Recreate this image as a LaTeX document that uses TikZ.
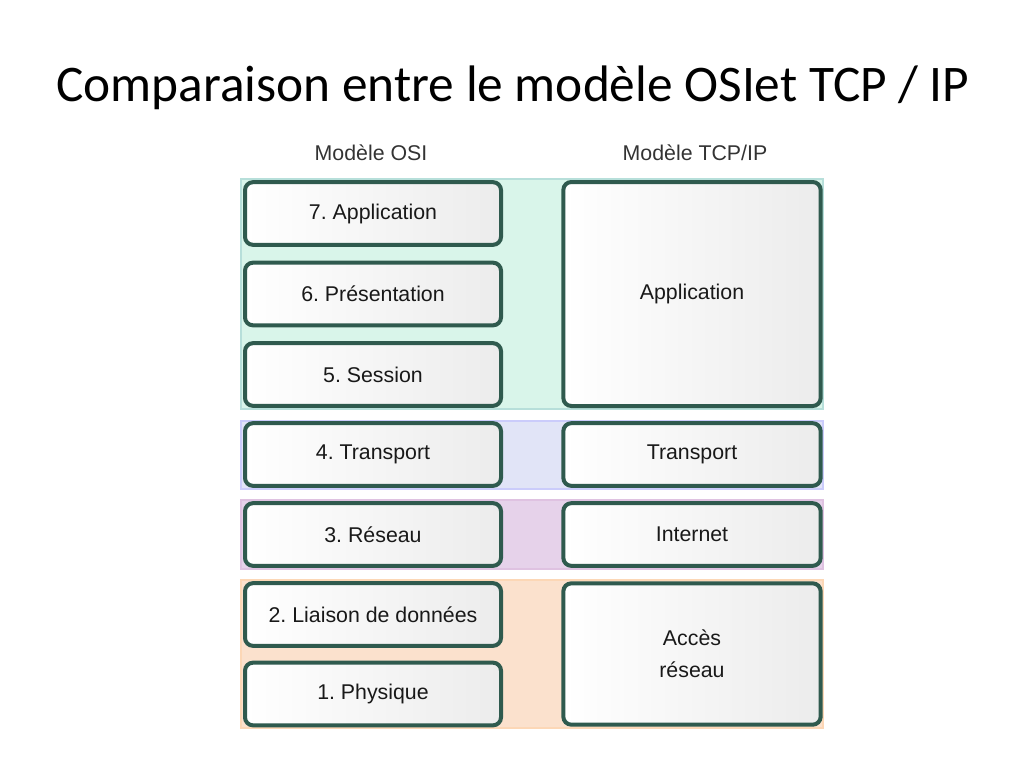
\documentclass[tikz,border=0pt]{standalone}
\usepackage{fontspec}
\setmainfont{Liberation Sans}
\newfontfamily\titlefont{Carlito}
\frenchspacing
\begin{document}
\begin{tikzpicture}[x=0.75pt,y=-0.75pt,
  layer/.style={draw=boxedge, line width=3pt, rounded corners=6pt,
     left color=white, right color=gray!15, inner sep=0pt, text=black!90,
     font=\fontsize{16}{18}\selectfont, align=center},
  hdr/.style={font=\fontsize{16}{18}\selectfont, text=black!80}]
\definecolor{boxedge}{HTML}{2F5A4E}
\definecolor{bgreen}{HTML}{D9F5EA}
\definecolor{bblue}{HTML}{E1E4F7}
\definecolor{bpurple}{HTML}{E6D2EA}
\definecolor{borange}{HTML}{FBE1CD}
\useasboundingbox (0,0) rectangle (1024,768);
\node[font=\titlefont\fontsize{38.5}{44}\selectfont] (title) at (513,88) {Comparaison entre le modèle OSIet TCP / IP};
\node[hdr] (hosi) at (371,153) {Modèle OSI};
\node[hdr] (htcp) at (695,153) {Modèle TCP/IP};
% bands
\path[fill=bgreen, draw=bgreen!70!teal!70!white, line width=1pt] (241,179) rectangle (823,409);
\path[fill=bblue, draw=bblue!80!blue!70!white, line width=1pt] (241,421) rectangle (823,489);
\path[fill=bpurple, draw=bpurple!80!violet!70!white, line width=1pt] (241,500) rectangle (823,569);
\path[fill=borange, draw=borange!80!orange!80!white, line width=1pt] (241,580) rectangle (823,728);
% left boxes
\node[layer, minimum width=192pt, minimum height=47pt] (l7) at (373,213.5) {7. Application};
\node[layer, minimum width=192pt, minimum height=47pt] (l6) at (373,294) {6. Présentation};
\node[layer, minimum width=192pt, minimum height=47pt] (l5) at (373,374.5) {5. Session};
\node[layer, minimum width=192pt, minimum height=47pt] (l4) at (373,454.5) {4. Transport};
\node[layer, minimum width=192pt, minimum height=47pt] (l3) at (373,534.5) {3. Réseau};
\node[layer, minimum width=192pt, minimum height=47pt] (l2) at (373,614.5) {2. Liaison de données};
\node[layer, minimum width=192pt, minimum height=47pt] (l1) at (373,694) {1. Physique};
% right boxes
\node[layer, minimum width=193pt, minimum height=168pt] (rapp) at (692,294) {Application};
\node[layer, minimum width=193pt, minimum height=47pt] (rtr) at (692,454.5) {Transport};
\node[layer, minimum width=193pt, minimum height=47pt] (rint) at (692,534.5) {Internet};
\node[layer, minimum width=193pt, minimum height=106pt, font=\fontsize{16}{24}\selectfont] (racc) at (692,654) {Accès\\réseau};
\end{tikzpicture}
\end{document}
